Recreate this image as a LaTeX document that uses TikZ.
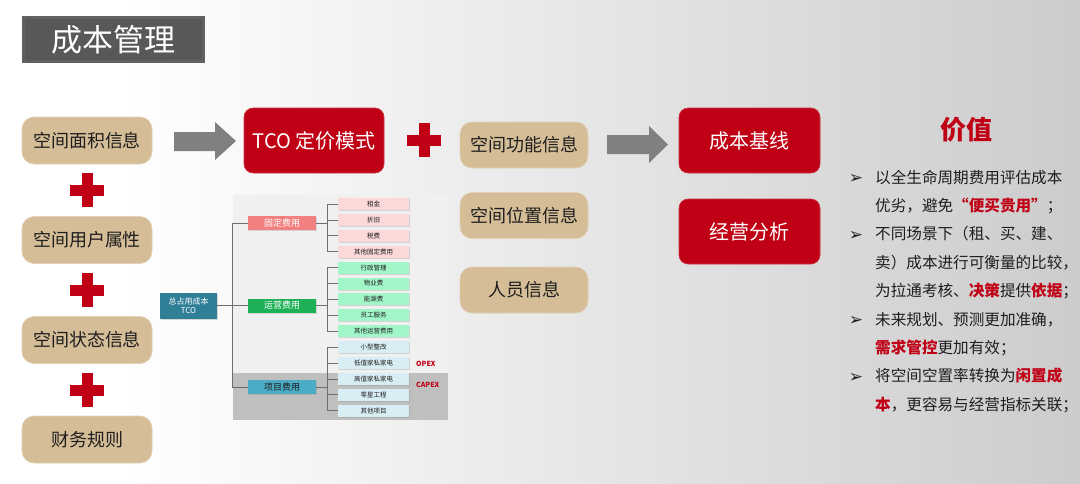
\documentclass[tikz,border=0pt]{standalone}
\usepackage{fontspec}
\setmainfont{Noto Sans CJK SC}
\newfontfamily\symfont{DejaVu Sans}
\usetikzlibrary{shadows,calc}
\definecolor{tanc}{HTML}{D4BD97}
\definecolor{redc}{HTML}{C00015}
\definecolor{arrowc}{HTML}{808080}
\definecolor{txtc}{HTML}{1E1E1E}
\definecolor{titlec}{HTML}{585858}
\definecolor{rootc}{HTML}{2F7F97}
\definecolor{fixc}{HTML}{F28080}
\definecolor{opsc}{HTML}{1DB056}
\definecolor{projc}{HTML}{4BACC6}
\definecolor{fixl}{HTML}{FCD8D8}
\definecolor{opsl}{HTML}{A2F7C9}
\definecolor{projl}{HTML}{D8EEF4}
\definecolor{linec}{HTML}{6E6E6E}
\newcommand\redplus[1]{%
  \fill[redc] ($(#1)+(-17,-5.5)$) rectangle ($(#1)+(17,5.5)$);
  \fill[redc] ($(#1)+(-5.5,-17)$) rectangle ($(#1)+(5.5,17)$);}
\tikzset{
  tanbox/.style={fill=tanc, draw=tanc!70!white, line width=0.6pt, rounded corners=12pt, minimum width=130pt, minimum height=47pt, inner sep=0pt, text=txtc, font=\fontsize{18}{18}\selectfont},
  redbox/.style={fill=redc, draw=redc!80!white, line width=0.6pt, rounded corners=9pt, minimum width=141pt, minimum height=65pt, inner sep=0pt, text=white, font=\fontsize{20}{20}\selectfont},
  lonebox/.style={minimum width=68pt, minimum height=14pt, inner sep=0pt, font=\fontsize{9}{9}\selectfont, text=white, drop shadow={shadow xshift=1pt, shadow yshift=-1pt, opacity=0.25}},
  ltwobox/.style={minimum width=71pt, minimum height=12pt, inner sep=0pt, font=\fontsize{6.5}{6.5}\selectfont, text=txtc, drop shadow={shadow xshift=1pt, shadow yshift=-1pt, opacity=0.25}},
  conn/.style={draw=linec, line width=0.7pt},
  blockarrow/.style={fill=arrowc},
  vline/.style={anchor=base west, inner sep=0pt, text=txtc, font=\fontsize{15.6}{15.6}\selectfont},
  bullet/.style={anchor=base, inner sep=0pt, text=txtc, font=\symfont\fontsize{17}{17}\selectfont}
}
\newcommand\hl[1]{\textcolor{redc}{\bfseries #1}}
\begin{document}
\begin{tikzpicture}[x=1pt,y=-1pt]
\useasboundingbox (0,0) rectangle (1080,483);
% background
\fill[white] (0,0) rectangle (1080,483);
\shade[left color=white, right color=black!20] (120,0) rectangle (1080,483);
% title
\fill[black!62] (22,16) rectangle (205,63);
\fill[titlec] (25,19) rectangle (202,60);
\node[text=white, font=\fontsize{31}{31}\selectfont, inner sep=0pt] (title) at (113.5,40) {成本管理};
% left column
\node[tanbox] (a1) at (87,140.5) {空间面积信息};
\node[tanbox] (a2) at (87,240) {空间用户属性};
\node[tanbox] (a3) at (87,340) {空间状态信息};
\node[tanbox] (a4) at (87,439.5) {财务规则};
\redplus{87,190}
\redplus{87,290}
\redplus{87,390}
% arrow 1
\fill[blockarrow] (174,132) -- (215,132) -- (215,122) -- (236,141) -- (215,160) -- (215,151) -- (174,151) -- cycle;
\node[redbox, minimum width=140pt] (tco) at (314,140.5) {TCO 定价模式};
\redplus{424,140}
% middle column
\node[tanbox, minimum width=128pt, minimum height=46pt] (b1) at (524,145) {空间功能信息};
\node[tanbox, minimum width=128pt, minimum height=46pt] (b2) at (524,215.5) {空间位置信息};
\node[tanbox, minimum width=128pt, minimum height=46pt] (b3) at (524,290) {人员信息};
% arrow 2
\fill[blockarrow] (607,135) -- (649,135) -- (649,126) -- (668,144.5) -- (649,163) -- (649,154) -- (607,154) -- cycle;
\node[redbox] (c1) at (749.5,140.5) {成本基线};
\node[redbox] (c2) at (749.5,231.5) {经营分析};
% tree panel
\fill[black!6] (233,195) rectangle (448,420);
\fill[black!25] (233,373) rectangle (448,420);
\node[fill=rootc, text=white, minimum width=57pt, minimum height=26pt, inner sep=0pt, align=center, font=\fontsize{8}{9}\selectfont, drop shadow={shadow xshift=1pt, shadow yshift=-1pt, opacity=0.3}] (root) at (188.5,305.5) {总占用成本\\TCO};
\node[lonebox, fill=fixc] (fix) at (282,223) {固定费用};
\node[lonebox, fill=opsc] (ops) at (282,305.5) {运营费用};
\node[lonebox, fill=projc, text=txtc] (proj) at (282,387) {项目费用};
\draw[conn] (root.east) -- (ops.west);
\draw[conn] (fix.west) -- ++(-15,0) |- (proj.west);
% level 2
\foreach \n/\t/\y/\c/\p in {
  f1/租金/204/fixl/fix, f2/折旧/219.9/fixl/fix, f3/税费/235.8/fixl/fix, f4/其他固定费用/251.7/fixl/fix,
  o1/行政管理/267.6/opsl/ops, o2/物业费/283.5/opsl/ops, o3/能源费/299.4/opsl/ops, o4/员工服务/315.3/opsl/ops, o5/其他运营费用/331.2/opsl/ops,
  p1/小型整改/347.1/projl/proj, p2/低值家私家电/363/projl/proj, p3/高值家私家电/378.9/projl/proj, p4/零星工程/394.8/projl/proj, p5/其他项目/410.7/projl/proj}{
  \node[ltwobox, fill=\c] (\n) at (373.5,\y) {\t};
  \draw[conn] (\p.east) -- ++(11,0) |- (\n.west);
}
\node[text=redc, font=\bfseries\fontsize{7}{7}\selectfont, inner sep=0pt, anchor=west] (opex) at (416,364) {OPEX};
\node[text=redc, font=\bfseries\fontsize{7}{7}\selectfont, inner sep=0pt, anchor=west] (capex) at (416,385) {CAPEX};
% value text
\node[text=redc, font=\bfseries\fontsize{26}{26}\selectfont, inner sep=0pt] (value) at (966,130) {价值};
\node[bullet] (k1) at (856,183) {➢};
\node[bullet] (k2) at (856,240) {➢};
\node[bullet] (k3) at (856,325) {➢};
\node[bullet] (k4) at (856,382) {➢};
\node[vline] (v1) at (875,183) {以全生命周期费用评估成本};
\node[vline] (v2) at (875,211.4) {优劣，避免\hl{“便买贵用”}；};
\node[vline] (v3) at (875,239.8) {不同场景下（租、买、建、};
\node[vline] (v4) at (875,268.2) {卖）成本进行可衡量的比较，};
\node[vline] (v5) at (875,296.6) {为拉通考核、\hl{决策}提供\hl{依据}；};
\node[vline] (v6) at (875,325) {未来规划、预测更加准确，};
\node[vline] (v7) at (875,353.4) {\hl{需求管控}更加有效；};
\node[vline] (v8) at (875,381.8) {将空间空置率转换为\hl{闲置成}};
\node[vline] (v9) at (875,410.2) {\hl{本}，更容易与经营指标关联；};
\end{tikzpicture}
\end{document}
